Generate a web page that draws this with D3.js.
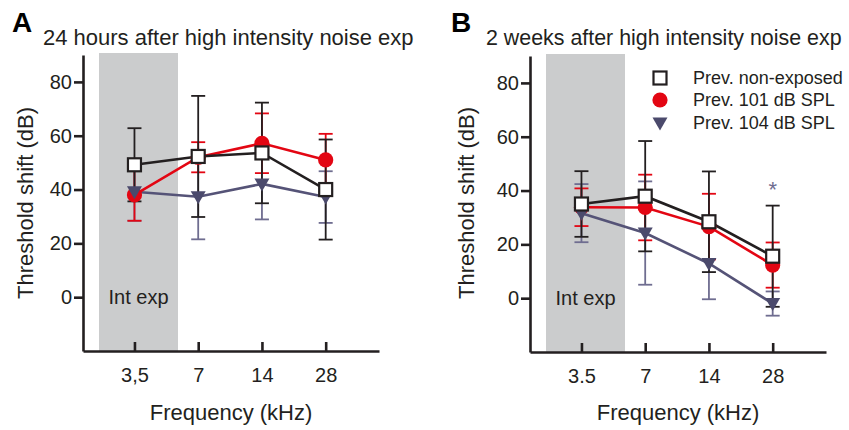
<!DOCTYPE html>
<html>
<head>
<meta charset="utf-8">
<script src="https://cdn.jsdelivr.net/npm/d3@7"></script>
<style>
  body { margin: 0; background: #fff; }
  svg { display: block; font-family: 'Liberation Sans', Arial, sans-serif; }
</style>
</head>
<body>
<svg id="chart" width="849" height="430"></svg>
<script>
/* global d3 */
// frequencies (kHz) and tick labels
var freqs = [3.5, 7, 14, 28];
var tickLabelsA = ['3,5', '7', '14', '28'];
var tickLabelsB = ['3.5', '7', '14', '28'];
var yTicks = [0, 20, 40, 60, 80];
var intExpBand = [2.38, 5.62];

// A: 24 hours after high intensity noise exposure (mean, +/- error)
var aNonMean = [49.2, 52.3, 53.6, 40.0];
var aNonErr = [13.6, 22.5, 18.7, 18.6];
var a101Mean = [38.0, 52.0, 57.2, 51.0];
var a101Err = [9.6, 5.6, 11.1, 9.7];
var a104Mean = [39.2, 37.3, 42.1, 37.2];
var a104Err = [10.8, 15.8, 13.2, 9.6];

// B: 2 weeks after high intensity noise exposure
var bNonMean = [35.0, 37.9, 28.4, 15.6];
var bNonErr = [12.2, 20.5, 18.7, 18.8];
var b101Mean = [33.8, 33.7, 26.6, 12.3];
var b101Err = [7.0, 12.2, 12.2, 8.4];
var b104Mean = [31.6, 24.2, 12.9, -2.0];
var b104Err = [10.8, 19.2, 13.3, 4.5];

var seriesNames = ['Prev. non-exposed', 'Prev. 101 dB SPL', 'Prev. 104 dB SPL'];

var INK = '#231f20';
var RED = '#e30613';
var PURPLE = '#4b4a6c';
var PURPLE_ERR = '#6f6d90';

var svg = d3.select('#chart');

function trianglePath(cx, cy) {
    return 'M' + (cx - 7.5) + ',' + (cy - 5.5) + 'L' + (cx + 7.5) + ',' + (cy - 5.5) +
        'L' + cx + ',' + (cy + 7.5) + 'Z';
}

function drawMarker(g, shape, cx, cy) {
    if (shape === 'square') {
        g.append('rect')
            .attr('x', cx - 6.5).attr('y', cy - 6.5)
            .attr('width', 13).attr('height', 13)
            .attr('fill', '#fff').attr('stroke', INK).attr('stroke-width', 2.2);
    } else if (shape === 'circle') {
        g.append('circle')
            .attr('cx', cx).attr('cy', cy).attr('r', 7.6)
            .attr('fill', RED);
    } else {
        g.append('path')
            .attr('d', trianglePath(cx, cy))
            .attr('fill', PURPLE);
    }
}

function drawPanel(p) {
    var x = d3.scaleLog().base(2).domain([2, 50]).range([p.left, p.right]);
    var y = d3.scaleLinear().domain([-20, 90]).range([p.bottom, p.top]);
    var g = svg.append('g');

    // shaded exposure band
    g.append('rect')
        .attr('x', x(intExpBand[0]))
        .attr('width', x(intExpBand[1]) - x(intExpBand[0]))
        .attr('y', y(90) - 2)
        .attr('height', y(-20) - y(90) + 2)
        .attr('fill', '#cbcccd');

    g.append('text')
        .attr('x', (x(intExpBand[0]) + x(intExpBand[1])) / 2)
        .attr('y', y(-2.6))
        .attr('text-anchor', 'middle')
        .attr('font-size', 20)
        .attr('fill', INK)
        .text('Int exp');

    // axes
    var xAxis = g.append('g')
        .attr('transform', 'translate(0,' + p.bottom + ')')
        .call(d3.axisBottom(x)
            .tickValues(freqs)
            .tickFormat(function (d, i) { return p.tickLabels[i]; })
            .tickSizeInner(-9)
            .tickSizeOuter(0));
    xAxis.selectAll('text')
        .attr('y', 31).attr('dy', 0)
        .attr('font-size', 20).attr('fill', INK);

    var yAxis = g.append('g')
        .attr('transform', 'translate(' + p.left + ',0)')
        .call(d3.axisLeft(y)
            .tickValues(yTicks)
            .tickSizeInner(9)
            .tickSizeOuter(0)
            .tickPadding(2));
    yAxis.selectAll('text')
        .attr('font-size', 20).attr('fill', INK);

    [xAxis, yAxis].forEach(function (ax) {
        ax.attr('font-family', null);
        ax.select('.domain').attr('stroke', INK).attr('stroke-width', 2.6);
        ax.selectAll('.tick line').attr('stroke', INK).attr('stroke-width', 2.6);
    });

    // axis titles
    g.append('text')
        .attr('x', (p.left + p.right) / 2)
        .attr('y', 420)
        .attr('text-anchor', 'middle')
        .attr('font-size', 22)
        .attr('fill', INK)
        .text('Frequency (kHz)');

    g.append('text')
        .attr('transform', 'translate(' + p.yLabelX + ',' + 203 + ') rotate(-90)')
        .attr('text-anchor', 'middle')
        .attr('font-size', 22)
        .attr('fill', INK)
        .text('Threshold shift (dB)');

    // panel letter and title
    g.append('text')
        .attr('x', p.letterX).attr('y', 32)
        .attr('font-size', 28).attr('font-weight', 'bold')
        .attr('fill', '#000')
        .text(p.letter);

    g.append('text')
        .attr('x', p.titleX).attr('y', 45)
        .attr('font-size', p.titleSize)
        .attr('fill', INK)
        .text(p.title);

    var series = [
        { mean: p.s104[0], err: p.s104[1], color: PURPLE, errColor: PURPLE_ERR, shape: 'triangle' },
        { mean: p.s101[0], err: p.s101[1], color: RED, errColor: RED, shape: 'circle' },
        { mean: p.sNon[0], err: p.sNon[1], color: INK, errColor: INK, shape: 'square' }
    ];

    // error bars
    series.forEach(function (s) {
        var eg = g.append('g').attr('stroke', s.errColor).attr('stroke-width', 1.8);
        freqs.forEach(function (f, i) {
            var cx = x(f);
            var top = y(s.mean[i] + s.err[i]);
            var bot = y(s.mean[i] - s.err[i]);
            eg.append('line').attr('x1', cx).attr('x2', cx).attr('y1', top).attr('y2', bot);
            eg.append('line').attr('x1', cx - 7).attr('x2', cx + 7).attr('y1', top).attr('y2', top);
            eg.append('line').attr('x1', cx - 7).attr('x2', cx + 7).attr('y1', bot).attr('y2', bot);
        });
    });

    // lines
    series.forEach(function (s) {
        var line = d3.line()
            .x(function (d, i) { return x(freqs[i]); })
            .y(function (d) { return y(d); });
        g.append('path')
            .attr('d', line(s.mean))
            .attr('fill', 'none')
            .attr('stroke', s.color === PURPLE ? '#555377' : s.color)
            .attr('stroke-width', 2.6);
    });

    // markers: red, purple, then squares on top
    [series[1], series[0], series[2]].forEach(function (s) {
        freqs.forEach(function (f, i) {
            drawMarker(g, s.shape, x(f), y(s.mean[i]));
        });
    });

    return { x: x, y: y, g: g };
}

drawPanel({
    left: 83, right: 379, top: 55, bottom: 351,
    tickLabels: tickLabelsA, yLabelX: 33,
    letter: 'A', letterX: 12, titleX: 43, titleSize: 22,
    title: '24 hours after high intensity noise exp',
    sNon: [aNonMean, aNonErr], s101: [a101Mean, a101Err], s104: [a104Mean, a104Err]
});

var pb = drawPanel({
    left: 530, right: 826, top: 56, bottom: 352,
    tickLabels: tickLabelsB, yLabelX: 474,
    letter: 'B', letterX: 451, titleX: 486, titleSize: 21.4,
    title: '2 weeks after high intensity noise exp',
    sNon: [bNonMean, bNonErr], s101: [b101Mean, b101Err], s104: [b104Mean, b104Err]
});

// significance mark at 28 kHz
pb.g.append('text')
    .attr('x', pb.x(28)).attr('y', pb.y(37.5))
    .attr('text-anchor', 'middle')
    .attr('font-size', 22)
    .attr('fill', PURPLE_ERR)
    .text('*');

// legend
var legend = pb.g.append('g').attr('transform', 'translate(660,78)');
['square', 'circle', 'triangle'].forEach(function (shape, i) {
    var ly = [0, 22, 45][i];
    drawMarker(legend, shape, 0, ly);
    legend.append('text')
        .attr('x', 33).attr('y', ly + 5.5)
        .attr('font-size', 18)
        .attr('fill', INK)
        .text(seriesNames[i]);
});
</script>
</body>
</html>
